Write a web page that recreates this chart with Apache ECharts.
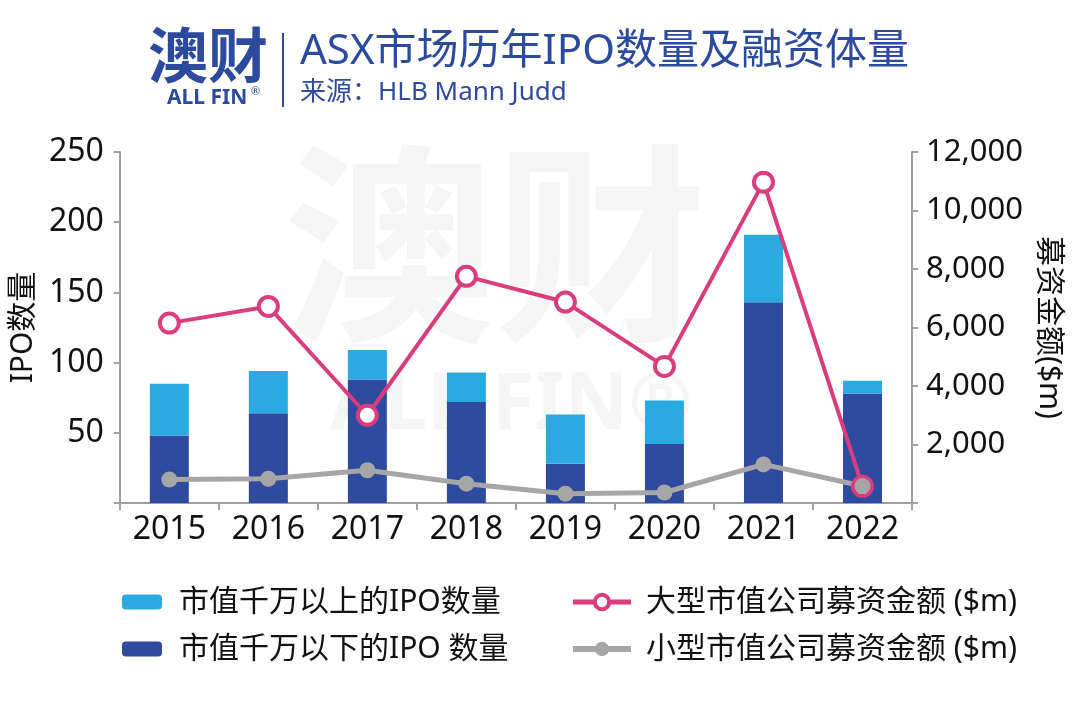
<!DOCTYPE html>
<html>
<head>
<meta charset="utf-8">
<script src="https://cdn.jsdelivr.net/npm/echarts@6/dist/echarts.min.js"></script>
<style>
html,body{margin:0;padding:0;background:#fff;}
#chart{width:1080px;height:718px;}
</style>
</head>
<body>
<div id="chart"></div>
<script>
const years = ['2015','2016','2017','2018','2019','2020','2021','2022'];
const ipoBelow = [48, 64, 88, 72, 28, 42, 143, 78];   // 市值千万以下
const ipoAbove = [37, 30, 21, 21, 35, 31, 48, 9];     // 市值千万以上 (stacked on top)
const largeRaise = [6150, 6720, 3000, 7750, 6870, 4670, 10970, 570];
const smallRaise = [800, 830, 1120, 660, 320, 360, 1320, 580];
const leftTicks = { min: 0, max: 250, interval: 50 };
const rightTicks = { min: 0, max: 12000, interval: 2000 };

const FONT = '"Noto Sans", "Noto Sans CJK SC", sans-serif';
const BLUE = '#2d4b9e';
const C_LIGHT = '#29abe2', C_DARK = '#2e4ba0', C_PINK = '#d93d7e', C_GRAY = '#a6a6a6';
const AXIS_COLOR = '#a0a0a0';

const chart = echarts.init(document.getElementById('chart'));
chart.setOption({
  backgroundColor: '#fff',
  textStyle: { fontFamily: FONT },
  animation: false,
  graphic: [
    { type: 'text', z: -10, x: 283, y: 138, style: { text: '澳财', font: 'bold 212px "Noto Sans CJK SC"', fill: '#f5f5f5' } },
    { type: 'text', z: -10, x: 330, y: 368, style: { text: 'ALL FIN®', font: 'bold 78px "Noto Sans"', fill: '#f5f5f5' } },
    { type: 'text', x: 148, y: 25, style: { text: '澳财', font: 'bold 60px "Noto Sans CJK SC"', fill: BLUE } },
    { type: 'text', x: 167, y: 88, style: { text: 'ALL FIN', font: 'bold 21px "Noto Sans"', fill: BLUE } },
    { type: 'text', x: 251, y: 86, style: { text: '®', font: '11px "Noto Sans"', fill: BLUE } },
    { type: 'line', shape: { x1: 283, y1: 33, x2: 283, y2: 107 }, style: { stroke: BLUE, lineWidth: 2 } },
    { type: 'text', x: 300, y: 31, style: { text: 'ASX市场历年IPO数量及融资体量', font: '42px "Noto Sans", "Noto Sans CJK SC"', fill: BLUE } },
    { type: 'text', x: 300, y: 80, style: { text: '来源：HLB Mann Judd', font: '26px "Noto Sans", "Noto Sans CJK SC"', fill: BLUE } }
  ],
  grid: { left: 117, right: 168, top: 152, bottom: 215 },
  legend: [
    {
      orient: 'vertical', left: 117, top: 581, itemWidth: 40, itemHeight: 15, itemGap: 15,
      data: ['市值千万以上的IPO数量', '市值千万以下的IPO 数量'],
      textStyle: { fontSize: 30, color: '#111', lineHeight: 32, padding: [0, 0, 0, 12] }
    },
    {
      orient: 'vertical', left: 565, top: 581, itemWidth: 58, itemHeight: 18, itemGap: 15,
      data: [
        { name: '大型市值公司募资金额 ($m)', lineStyle: { width: 5 }, itemStyle: { borderWidth: 4 } },
        { name: '小型市值公司募资金额 ($m)', lineStyle: { width: 6 } }
      ],
      textStyle: { fontSize: 30, color: '#111', lineHeight: 32, padding: [0, 0, 0, 10] }
    }
  ],
  xAxis: {
    type: 'category', data: years,
    axisLine: { lineStyle: { color: AXIS_COLOR, width: 2 } },
    axisTick: { show: true, length: 7, lineStyle: { color: AXIS_COLOR, width: 2 } },
    axisLabel: { fontSize: 32, color: '#111', margin: 11 }
  },
  yAxis: [
    {
      type: 'value', min: leftTicks.min, max: leftTicks.max, interval: leftTicks.interval,
      name: 'IPO数量', nameLocation: 'middle', nameRotate: 90, nameGap: 80,
      nameTextStyle: { fontSize: 30, color: '#111' },
      axisLine: { show: true, lineStyle: { color: AXIS_COLOR, width: 2 } },
      axisTick: { show: true, length: 6, lineStyle: { color: AXIS_COLOR, width: 2 } },
      axisLabel: { fontSize: 32, color: '#111', margin: 16, formatter: v => v === 0 ? '' : String(v) },
      splitLine: { show: false }
    },
    {
      type: 'value', position: 'right', min: rightTicks.min, max: rightTicks.max, interval: rightTicks.interval,
      name: '募资金额($m)', nameLocation: 'middle', nameRotate: -90, nameGap: 122,
      nameTextStyle: { fontSize: 30, color: '#111' },
      axisLine: { show: true, lineStyle: { color: AXIS_COLOR, width: 2 } },
      axisTick: { show: true, length: 6, lineStyle: { color: AXIS_COLOR, width: 2 } },
      axisLabel: { fontSize: 31, color: '#111', margin: 14, formatter: v => v === 0 ? '' : v.toLocaleString('en-US') },
      splitLine: { show: false }
    }
  ],
  series: [
    { name: '市值千万以下的IPO 数量', type: 'bar', stack: 'ipo', barWidth: 39, data: ipoBelow, itemStyle: { color: C_DARK } },
    { name: '市值千万以上的IPO数量', type: 'bar', stack: 'ipo', barWidth: 39, data: ipoAbove, itemStyle: { color: C_LIGHT } },
    {
      name: '大型市值公司募资金额 ($m)', type: 'line', yAxisIndex: 1, data: largeRaise,
      symbol: 'circle', symbolSize: 19,
      lineStyle: { color: C_PINK, width: 4 },
      itemStyle: { color: '#fff', borderColor: C_PINK, borderWidth: 4 }
    },
    {
      name: '小型市值公司募资金额 ($m)', type: 'line', yAxisIndex: 1, data: smallRaise,
      symbol: 'circle', symbolSize: 16,
      lineStyle: { color: C_GRAY, width: 5 }, itemStyle: { color: C_GRAY }
    }
  ]
});
</script>
</body>
</html>
